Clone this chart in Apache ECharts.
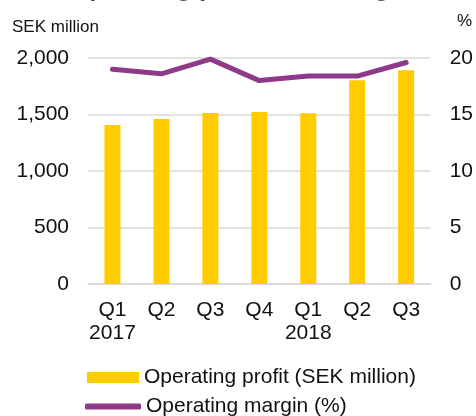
<!DOCTYPE html>
<html>
<head>
<meta charset="utf-8">
<script src="https://cdn.jsdelivr.net/npm/echarts@6/dist/echarts.min.js"></script>
<style>
  html, body { margin: 0; padding: 0; background: #fff; }
  #chart { width: 476px; height: 416px; }
</style>
</head>
<body>
<div id="chart"></div>
<script>
// 数据
const categories = ["Q1\n2017", "Q2", "Q3", "Q4", "Q1\n2018", "Q2", "Q3"];
const profit = [1407, 1460, 1513, 1522, 1510, 1803, 1891];
const margin = [19.0, 18.6, 19.9, 18.0, 18.4, 18.4, 19.6];

const font = "Liberation Sans, Arial, sans-serif";
const legendText = { fontFamily: font, fontSize: 21, color: "#111" };

const chart = echarts.init(document.getElementById("chart"));
chart.setOption({
  animation: false,
  title: {
    text: "Operating profit and margin",
    left: 64,
    top: -29,
    textStyle: { fontFamily: font, fontSize: 26, fontWeight: "bold", color: "#3d5566" },
  },
  grid: { left: 88, right: 36, top: 58, bottom: 132 },
  legend: [
    {
      left: 82,
      top: 362,
      itemWidth: 52,
      itemHeight: 11,
      textStyle: legendText,
      data: [{ name: "Operating profit (SEK million)", icon: "rect" }],
    },
    {
      left: 80,
      top: 391,
      itemWidth: 56,
      itemHeight: 6,
      textStyle: legendText,
      data: [{ name: "Operating margin (%)", icon: "roundRect", lineStyle: { width: 5, cap: "round" } }],
    },
  ],
  graphic: [
    { type: "text", left: 12, top: 19, style: { text: "SEK million", font: "17px " + font, fill: "#111" } },
    { type: "text", left: 457, top: 13, style: { text: "%", font: "17px " + font, fill: "#111" } },
  ],
  xAxis: {
    type: "category",
    data: categories,
    axisTick: { show: false },
    axisLine: { lineStyle: { color: "#d9d9d9", width: 1.5 } },
    axisLabel: { fontFamily: font, fontSize: 21, color: "#111", margin: 15, lineHeight: 23, interval: 0 },
  },
  yAxis: [
    {
      type: "value",
      min: 0,
      max: 2000,
      interval: 500,
      axisLine: { show: false },
      axisTick: { show: false },
      splitLine: { lineStyle: { color: "#d9d9d9", width: 1.5 } },
      axisLabel: {
        fontFamily: font, fontSize: 21, color: "#111", margin: 19,
        formatter: (v) => v.toLocaleString("en-US"),
      },
    },
    {
      type: "value",
      min: 0,
      max: 20,
      interval: 5,
      axisLine: { show: false },
      axisTick: { show: false },
      splitLine: { show: false },
      axisLabel: { fontFamily: font, fontSize: 21, color: "#111", margin: 19 },
    },
  ],
  series: [
    {
      type: "bar",
      name: "Operating profit (SEK million)",
      data: profit,
      barWidth: 16,
      itemStyle: { color: "#ffcc00" },
    },
    {
      type: "line",
      name: "Operating margin (%)",
      yAxisIndex: 1,
      data: margin,
      symbol: "none",
      lineStyle: { color: "#8e3a8b", width: 5, cap: "round" },
      itemStyle: { color: "#8e3a8b" },
    },
  ],
});
</script>
</body>
</html>
